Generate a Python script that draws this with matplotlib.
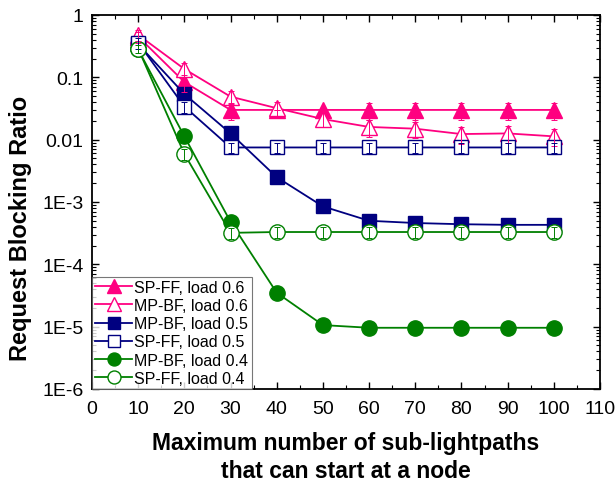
import matplotlib
matplotlib.use("Agg")
import matplotlib.pyplot as plt
from matplotlib.ticker import LogLocator, NullFormatter, MultipleLocator

plt.rcParams['font.family'] = ['Liberation Sans', 'DejaVu Sans']

x = [10, 20, 30, 40, 50, 60, 70, 80, 90, 100]

spff_06 = [0.45, 0.084, 0.030, 0.030, 0.030, 0.030, 0.030, 0.030, 0.030, 0.030]
mpbf_06 = [0.48, 0.136, 0.049, 0.032, 0.0214, 0.016, 0.015, 0.0123, 0.0126, 0.0113]
mpbf_05 = [0.34, 0.054, 0.0126, 0.0025, 8.5e-4, 5.0e-4, 4.6e-4, 4.4e-4, 4.3e-4, 4.3e-4]
spff_05 = [0.36, 0.034, 0.0075, 0.0075, 0.0075, 0.0075, 0.0075, 0.0075, 0.0075, 0.0075]
mpbf_04 = [0.28, 0.0113, 4.8e-4, 3.5e-5, 1.06e-5, 9.6e-6, 9.6e-6, 9.6e-6, 9.6e-6, 9.6e-6]
spff_04 = [0.29, 0.0059, 3.2e-4, 3.3e-4, 3.3e-4, 3.3e-4, 3.3e-4, 3.3e-4, 3.3e-4, 3.3e-4]

# relative half-width of the error bars
err_spff_06 = [0.2, 0.3, 0.3, 0.0, 0.0, 0.3, 0.3, 0.3, 0.3, 0.3]
err_mpbf_06 = [0.2, 0.25, 0.25, 0.25, 0.25, 0.3, 0.3, 0.3, 0.3, 0.3]
err_spff_05 = [0.2, 0.2, 0.2, 0.2, 0.2, 0.2, 0.2, 0.2, 0.2, 0.2]
err_spff_04 = [0.15, 0.2, 0.2, 0.2, 0.2, 0.2, 0.2, 0.2, 0.2, 0.2]

labels = ["SP-FF, load 0.6", "MP-BF, load 0.6", "MP-BF, load 0.5",
          "SP-FF, load 0.5", "MP-BF, load 0.4", "SP-FF, load 0.4"]

pink = '#ff0080'
navy = '#000080'
green = '#008000'

fig = plt.figure(figsize=(6.15, 4.81), dpi=100)
ax = fig.add_axes([92/615, 1 - 390/481, (600 - 92)/615, (390 - 16)/481])

series = [
    (spff_06, pink, '^', True, 12, err_spff_06),
    (mpbf_06, pink, '^', False, 12, err_mpbf_06),
    (mpbf_05, navy, 's', True, 10, None),
    (spff_05, navy, 's', False, 10, err_spff_05),
    (mpbf_04, green, 'o', True, 11, None),
    (spff_04, green, 'o', False, 11, err_spff_04),
]

for (y, c, m, filled, ms, err), lab in zip(series, labels):
    ax.plot(x, y, color=c, lw=1.3, marker=m, ms=ms,
            mfc=c if filled else 'white', mec=c, mew=1.0, label=lab, zorder=3)
    if err is not None:
        lo = [v * e for v, e in zip(y, err)]
        hi = [v * e for v, e in zip(y, err)]
        ax.errorbar(x, y, yerr=[lo, hi], fmt='none', ecolor=c, elinewidth=0.7,
                    capsize=2.5, capthick=0.7, zorder=4)

ax.set_yscale('log')
ax.set_ylim(1e-6, 1)
ax.set_xlim(0, 110)
ax.xaxis.set_major_locator(MultipleLocator(10))
ax.xaxis.set_minor_locator(MultipleLocator(5))
ax.yaxis.set_minor_locator(LogLocator(base=10, subs=range(2, 10), numticks=20))
ax.yaxis.set_minor_formatter(NullFormatter())
ytick_vals = [1e-6, 1e-5, 1e-4, 1e-3, 0.01, 0.1, 1]
ytick_labels = ["1E-6", "1E-5", "1E-4", "1E-3", "0.01", "0.1", "1"]
ax.set_yticks(ytick_vals)
ax.set_yticklabels(ytick_labels)

ax.tick_params(which='both', direction='in', top=True, right=True, labelsize=14)
ax.tick_params(axis='x', which='major', pad=8)
ax.tick_params(axis='y', which='major', pad=6)
ax.tick_params(which='major', length=5, width=1)
ax.tick_params(which='minor', length=3, width=0.8)
for s in ax.spines.values():
    s.set_linewidth(1.3)

ax.set_xlabel("Maximum number of sub-lightpaths\nthat can start at a node",
              fontsize=16.5, fontweight='bold', linespacing=1.25, labelpad=10)
fig.text(21/615, 1 - 228/481, "Request Blocking Ratio", fontsize=17,
         fontweight='bold', rotation=90, ha='center', va='center')

leg = ax.legend(loc='lower left', fontsize=11.5, frameon=True, fancybox=False,
                edgecolor='#555555', borderaxespad=0, handlelength=2.3,
                handletextpad=0.15, labelspacing=0.2, borderpad=0.2,
                markerscale=0.85)
leg.get_frame().set_linewidth(0.8)

fig.savefig("out.png", dpi=100)
